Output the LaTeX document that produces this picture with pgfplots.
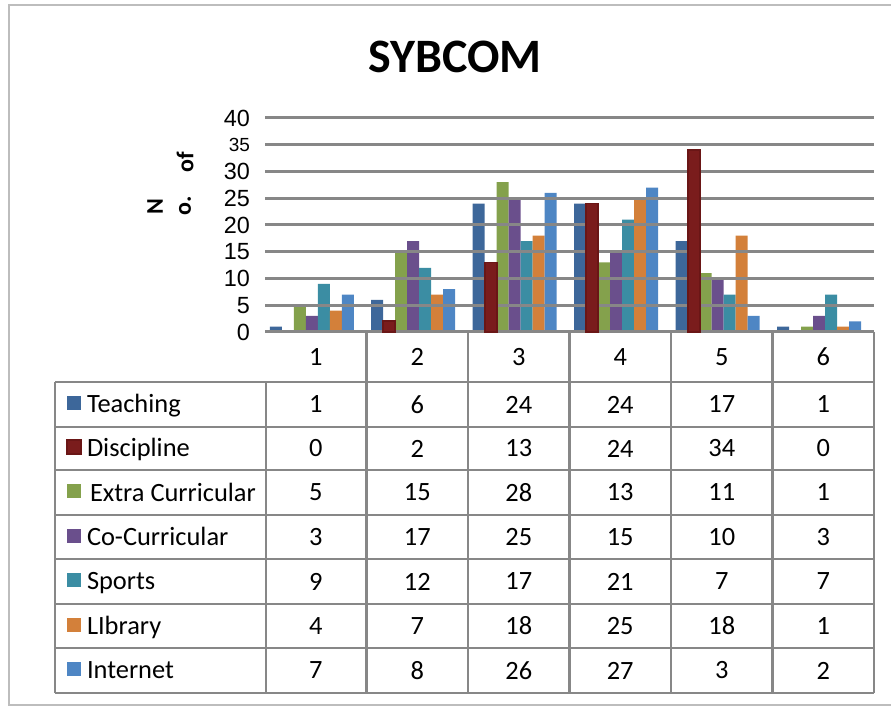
\documentclass[border=0pt]{standalone}
\usepackage{fontspec}
\setmainfont{Carlito}
\newfontfamily\arialfont{Liberation Sans}
\usepackage{pgfplots}
\pgfplotsset{compat=1.18}
\usepackage{pgfplotstable}
\definecolor{cTeach}{HTML}{3D679A}
\definecolor{cDisc}{HTML}{7A1C1C}
\definecolor{cDiscD}{HTML}{6A1616}
\definecolor{cExtra}{HTML}{84A14C}
\definecolor{cCo}{HTML}{6A4F8C}
\definecolor{cSports}{HTML}{3B8DA3}
\definecolor{cLib}{HTML}{D3803A}
\definecolor{cNet}{HTML}{4E86C4}
\definecolor{gridcol}{HTML}{878787}
\definecolor{framecol}{HTML}{BDBDBD}
\pgfplotstableread{
cat Teaching Discipline Extra Co Sports Library Internet
1 1 0 5 3 9 4 7
2 6 2 15 17 12 7 8
3 24 13 28 25 17 18 26
4 24 24 13 15 21 25 27
5 17 34 11 10 7 18 3
6 1 0 1 3 7 1 2
}\datatable
\begin{document}
\begin{tikzpicture}
\draw[framecol, line width=1pt] (4.5pt,0.5pt) rectangle (450pt,350.5pt);
\node[font=\bfseries\fontsize{24}{28}\selectfont] at (227.5pt,324.5pt) {SYBCOM};
\node[font=\bfseries\fontsize{12}{14}\selectfont, rotate=90] at (77.5pt,249.5pt) {N};
\node[font=\bfseries\fontsize{12}{14}\selectfont, rotate=90] at (92.5pt,250pt) {o.};
\node[font=\bfseries\fontsize{12}{14}\selectfont, rotate=90] at (92.5pt,272pt) {of};
\begin{axis}[
  set layers, axis on top,
  at={(132.5pt,187pt)}, anchor=south west,
  scale only axis, width=304.5pt, height=107pt,
  xmin=0.5, xmax=6.5, ymin=0, ymax=40,
  xtick={1,2,3,4,5,6}, xticklabels={1,2,3,4,5,6},
  ytick={0,5,10,15,20,25,30,35,40},
  yticklabels={0,5,10,15,20,25,30,{\fontsize{9.5}{10}\selectfont 35},40},
  ymajorgrids, grid style={gridcol, line width=1.5pt},
  axis line style={draw=none}, major tick length=0pt,
  clip=false,
  /pgf/number format/assume math mode=true,
  yticklabel style={font=\arialfont\fontsize{11.7}{12}\selectfont, anchor=east, xshift=-4pt},
  xticklabel style={font=\fontsize{13.2}{14}\selectfont, anchor=center, yshift=-12.5pt},
  every node near coord/.append style={font=\fontsize{13.2}{14}\selectfont, text=black, anchor=center, inner sep=0pt},
  legend image code/.code={\path[#1] (0pt,-2.5pt) rectangle (7pt,4.5pt);},
  legend cell align=left,
  legend style={at={(axis description cs:-0.32677,-0.23364)}, anchor=north west,
    draw=none, fill=none, inner sep=0pt, row sep=0pt, column sep=2.5pt,
    font=\fontsize{13.2}{14}\selectfont,
    nodes={inner sep=0pt, text height=15pt, text depth=7.2pt}},
]
\addplot[ybar, bar width=6pt, bar shift=-20pt, fill=cTeach, draw=none] table[x=cat,y=Teaching]{\datatable};
\addlegendentry{Teaching}
\addplot[ybar, bar width=6pt, bar shift=-14pt, fill=cDisc, draw=cDiscD, line width=0.8pt, on layer=axis foreground,
  y filter/.expression={y==0 ? nan : y}, unbounded coords=discard] table[x=cat,y=Discipline]{\datatable};
\addlegendentry{Discipline}
\addplot[ybar, bar width=6pt, bar shift=-8pt, fill=cExtra, draw=none] table[x=cat,y=Extra]{\datatable};
\addlegendentry{\hspace{1.5pt}Extra Curricular}
\addplot[ybar, bar width=6pt, bar shift=-2pt, fill=cCo, draw=none] table[x=cat,y=Co]{\datatable};
\addlegendentry{Co-Curricular}
\addplot[ybar, bar width=6pt, bar shift=4pt, fill=cSports, draw=none] table[x=cat,y=Sports]{\datatable};
\addlegendentry{Sports}
\addplot[ybar, bar width=6pt, bar shift=10pt, fill=cLib, draw=none] table[x=cat,y=Library]{\datatable};
\addlegendentry{LIbrary}
\addplot[ybar, bar width=6pt, bar shift=16pt, fill=cNet, draw=none] table[x=cat,y=Internet]{\datatable};
\addlegendentry{Internet}
% data table values
\addplot[forget plot, draw=none, nodes near coords, point meta=explicit] table[x=cat, y expr=-13.55, meta=Teaching]{\datatable};
\addplot[forget plot, draw=none, nodes near coords, point meta=explicit] table[x=cat, y expr=-21.78, meta=Discipline]{\datatable};
\addplot[forget plot, draw=none, nodes near coords, point meta=explicit] table[x=cat, y expr=-30.0, meta=Extra]{\datatable};
\addplot[forget plot, draw=none, nodes near coords, point meta=explicit] table[x=cat, y expr=-38.32, meta=Co]{\datatable};
\addplot[forget plot, draw=none, nodes near coords, point meta=explicit] table[x=cat, y expr=-46.64, meta=Sports]{\datatable};
\addplot[forget plot, draw=none, nodes near coords, point meta=explicit] table[x=cat, y expr=-54.95, meta=Library]{\datatable};
\addplot[forget plot, draw=none, nodes near coords, point meta=explicit] table[x=cat, y expr=-63.27, meta=Internet]{\datatable};
\end{axis}
% table grid
\begin{scope}[gridcol, line width=1.4pt]
\foreach \yy in {162,139.5,118,95.5,73.5,51,29,6.5} {\draw (27.5pt,\yy pt) -- (437pt,\yy pt);}
\draw (27.5pt,162pt) -- (27.5pt,6.5pt);
\draw (133pt,162pt) -- (133pt,6.5pt);
\foreach \xx in {183.25,234,284.75,335.5,386.25,437} {\draw (\xx pt,187pt) -- (\xx pt,6.5pt);}
\end{scope}
\pgfresetboundingbox
\path[use as bounding box] (0,0) rectangle (445.5pt,353pt);
\end{tikzpicture}
\end{document}
